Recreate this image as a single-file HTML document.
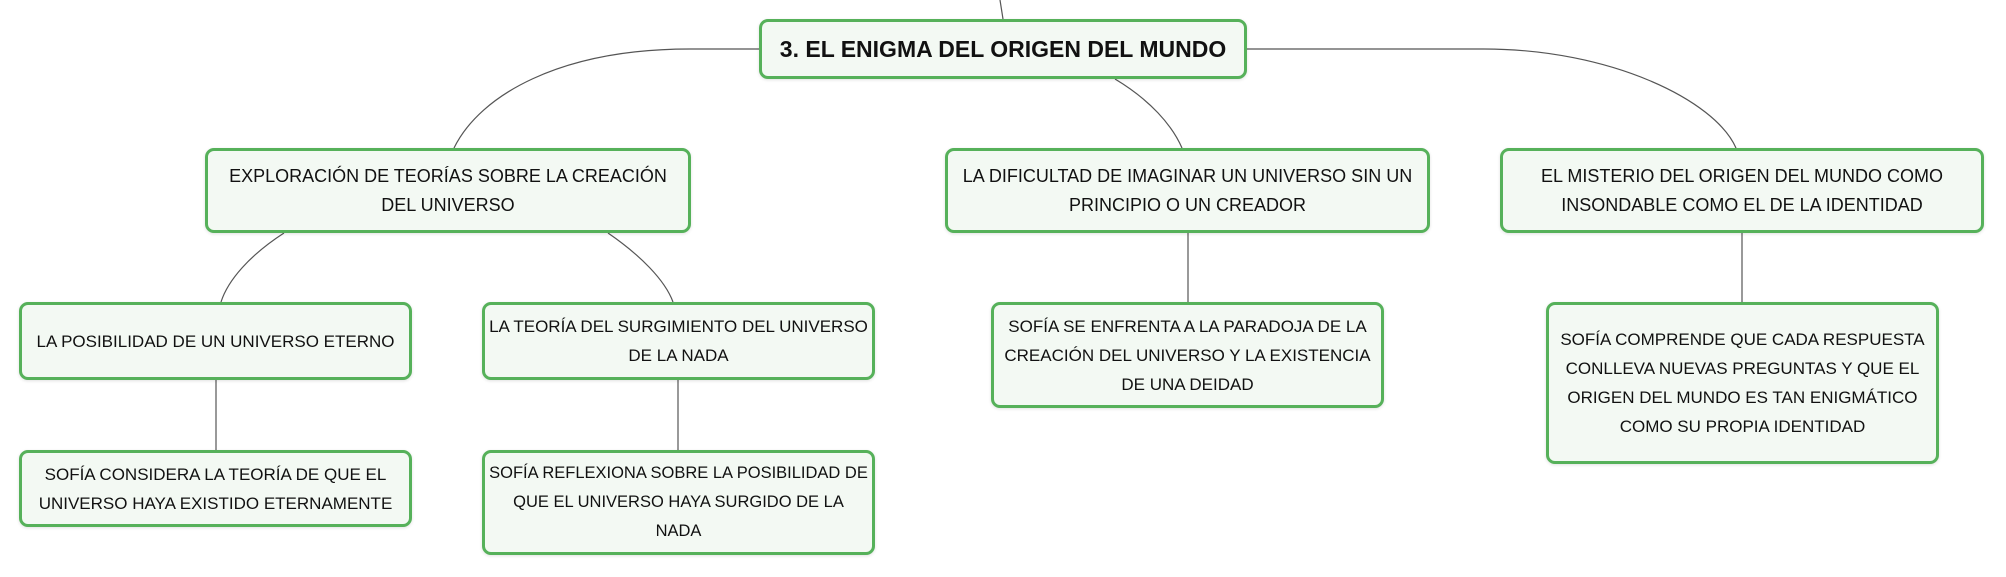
<!DOCTYPE html>
<html><head><meta charset="utf-8"><style>
html,body{margin:0;padding:0;background:#fff;}
body{width:2006px;height:577px;position:relative;overflow:hidden;font-family:"Liberation Sans",sans-serif;}
.b{position:absolute;box-sizing:border-box;border:3px solid #56b15a;border-radius:9px;background:#f3f9f3;display:flex;align-items:center;justify-content:center;text-align:center;color:#111;font-size:18px;line-height:29px;padding:0 2px;box-shadow:0 1px 3px rgba(0,0,0,0.12);white-space:nowrap;}
.s{font-size:17px;}
svg{position:absolute;left:0;top:0;}
</style></head><body>
<svg width="2006" height="577" fill="none" stroke="#555" stroke-width="1.2">
<path d="M1000 0 L1003 19"/>
<path d="M760 49 L690 49 C560 49 480 95 454 148"/>
<path d="M1245 49 L1484 49 C1610 49 1715 100 1736 148"/>
<path d="M1115 79 C1150 100 1172 125 1182 148"/>
<path d="M284 233 C250 255 228 280 221 302"/>
<path d="M608 233 C640 255 665 280 673 302"/>
<path d="M216 380 L216 450"/>
<path d="M678 380 L678 450"/>
<path d="M1188 233 L1188 302"/>
<path d="M1742 233 L1742 302"/>
</svg>
<div class="b" style="left:759px;top:19px;width:488px;height:60px;font-weight:bold;font-size:23px;">3. EL ENIGMA DEL ORIGEN DEL MUNDO</div>
<div class="b" style="left:205px;top:148px;width:486px;height:85px;">EXPLORACIÓN DE TEORÍAS SOBRE LA CREACIÓN<br>DEL UNIVERSO</div>
<div class="b" style="left:945px;top:148px;width:485px;height:85px;">LA DIFICULTAD DE IMAGINAR UN UNIVERSO SIN UN<br>PRINCIPIO O UN CREADOR</div>
<div class="b" style="left:1500px;top:148px;width:484px;height:85px;">EL MISTERIO DEL ORIGEN DEL MUNDO COMO<br>INSONDABLE COMO EL DE LA IDENTIDAD</div>
<div class="b s" style="left:19px;top:302px;width:393px;height:78px;">LA POSIBILIDAD DE UN UNIVERSO ETERNO</div>
<div class="b s" style="left:482px;top:302px;width:393px;height:78px;">LA TEORÍA DEL SURGIMIENTO DEL UNIVERSO<br>DE LA NADA</div>
<div class="b s" style="left:19px;top:450px;width:393px;height:77px;">SOFÍA CONSIDERA LA TEORÍA DE QUE EL<br>UNIVERSO HAYA EXISTIDO ETERNAMENTE</div>
<div class="b s" style="left:482px;top:450px;width:393px;height:105px;font-size:16.5px;">SOFÍA REFLEXIONA SOBRE LA POSIBILIDAD DE<br>QUE EL UNIVERSO HAYA SURGIDO DE LA<br>NADA</div>
<div class="b s" style="left:991px;top:302px;width:393px;height:106px;">SOFÍA SE ENFRENTA A LA PARADOJA DE LA<br>CREACIÓN DEL UNIVERSO Y LA EXISTENCIA<br>DE UNA DEIDAD</div>
<div class="b s" style="left:1546px;top:302px;width:393px;height:162px;">SOFÍA COMPRENDE QUE CADA RESPUESTA<br>CONLLEVA NUEVAS PREGUNTAS Y QUE EL<br>ORIGEN DEL MUNDO ES TAN ENIGMÁTICO<br>COMO SU PROPIA IDENTIDAD</div>
</body></html>
